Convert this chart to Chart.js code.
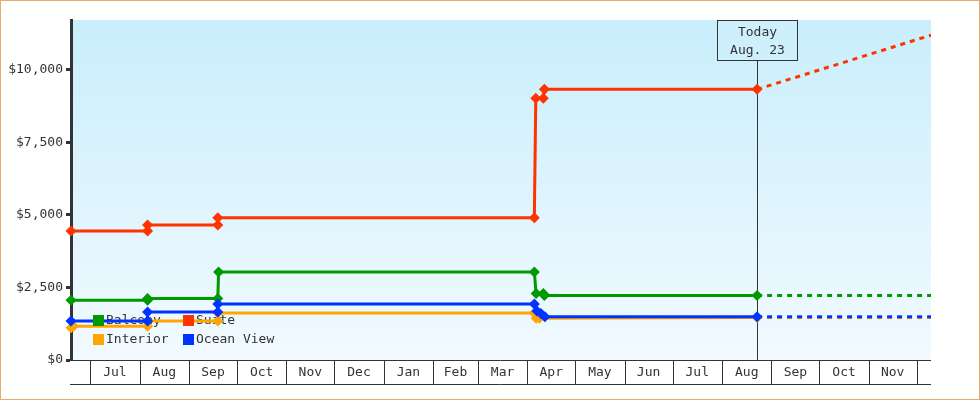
<!DOCTYPE html>
<html>
<head>
<meta charset="utf-8">
<script src="https://cdn.jsdelivr.net/npm/chart.js@4"></script>
<style>
  html, body { margin: 0; padding: 0; background: #fff; }
  #wrap { position: relative; width: 978px; height: 398px; border: 1px solid #e8ad6c; }
</style>
</head>
<body>
<div id="wrap"><canvas id="priceChart" width="978" height="398"></canvas></div>
<script>
// Month cells of the x axis (days counted from Jul 1 of the first year)
const monthNames = ['Jul', 'Aug', 'Sep', 'Oct', 'Nov', 'Dec', 'Jan', 'Feb', 'Mar', 'Apr', 'May', 'Jun', 'Jul', 'Aug', 'Sep', 'Oct', 'Nov'];
const monthStarts = [0, 31, 62, 92, 123, 153, 184, 215, 243, 274, 304, 335, 365, 396, 427, 457, 488, 518];
const yTicks = [0, 2500, 5000, 7500, 10000];
const todayDay = 418;
const todayLabel = ['Today', 'Aug. 23'];

// Price history per cabin type
const balconyDays = [-12, 36, 36, 80, 80.5, 278.4, 279.5, 284, 284.7, 418];
const balconyPrices = [2064, 2064, 2119, 2119, 3031, 3031, 2290, 2290, 2225, 2225];
const suiteDays = [-12, 36, 36, 80, 80, 278.4, 279.3, 284, 284.7, 418];
const suitePrices = [4449, 4449, 4656, 4656, 4908, 4908, 9022, 9022, 9333, 9333];
const interiorDays = [-12, -10.5, 36, 36, 80, 80, 278.4, 279.5, 281.5, 418];
const interiorPrices = [1110, 1160, 1160, 1348, 1348, 1620, 1620, 1441, 1441, 1462];
const oceanDays = [-12, 36, 36, 80, 80, 278.4, 280, 282.5, 285, 418];
const oceanPrices = [1348, 1348, 1659, 1659, 1930, 1930, 1690, 1600, 1490, 1490];

// Projected prices (dotted)
const projDays = [418, 527];
const balconyProj = [2225, 2225];
const suiteProj = [9333, 11200];
const interiorProj = [1462, 1462];
const oceanProj = [1490, 1490];

const xMin = -12, xMax = 527, yMax = 11724;
const FONT = '13px "DejaVu Sans Mono", monospace';
const INK = '#333333';

const colors = { balcony: '#009900', suite: '#ff3300', interior: '#ffa500', ocean: '#0033ff' };
const legendItems = [
    { label: 'Balcony', color: colors.balcony },
    { label: 'Suite', color: colors.suite },
    { label: 'Interior', color: colors.interior },
    { label: 'Ocean View', color: colors.ocean }
];

function pts(xs, ys) {
    return xs.map((x, i) => ({ x: x, y: ys[i] }));
}

function lineSet(xs, ys, color) {
    return {
        data: pts(xs, ys), borderColor: color, backgroundColor: color,
        borderWidth: 3, pointStyle: 'rectRot', pointRadius: 5.5, pointBorderWidth: 0,
        tension: 0, fill: false, clip: false
    };
}

function projSet(xs, ys, color) {
    return {
        data: pts(xs, ys), borderColor: color, borderWidth: 3, borderDash: [5, 5],
        pointRadius: 0, tension: 0, fill: false
    };
}

// fondo degradado, celdas de meses, linea de hoy y leyenda
const decor = {
    id: 'decor',
    beforeDraw(chart) {
        const { ctx, chartArea: a } = chart;
        ctx.save();
        const g = ctx.createLinearGradient(0, a.top, 0, a.bottom);
        g.addColorStop(0, '#c9eefc');
        g.addColorStop(1, '#f2faff');
        ctx.fillStyle = g;
        ctx.fillRect(a.left, a.top, a.right - a.left, a.bottom - a.top);
        ctx.restore();
    },
    beforeDatasetsDraw(chart) {
        const { ctx, chartArea: a, scales: { x } } = chart;
        ctx.save();

        // month band
        ctx.strokeStyle = INK;
        ctx.lineWidth = 1;
        const bandTop = a.bottom + 0.5, bandBottom = a.bottom + 24.5;
        ctx.beginPath();
        ctx.moveTo(a.left - 1, bandTop); ctx.lineTo(a.right, bandTop);
        ctx.moveTo(a.left - 1, bandBottom); ctx.lineTo(a.right, bandBottom);
        monthStarts.forEach(d => {
            const px = Math.round(x.getPixelForValue(d)) + 0.5;
            ctx.moveTo(px, bandTop); ctx.lineTo(px, bandBottom);
        });
        ctx.stroke();
        ctx.fillStyle = INK;
        ctx.font = FONT;
        ctx.textAlign = 'center';
        ctx.textBaseline = 'middle';
        monthNames.forEach((m, i) => {
            const cx = (x.getPixelForValue(monthStarts[i]) + x.getPixelForValue(monthStarts[i + 1])) / 2;
            ctx.fillText(m, cx, a.bottom + 13);
        });

        // today line + box
        const tx = Math.round(x.getPixelForValue(todayDay)) + 0.5;
        ctx.beginPath();
        ctx.moveTo(tx, a.top + 40); ctx.lineTo(tx, a.bottom);
        ctx.stroke();
        ctx.fillStyle = '#cdf0fc';
        ctx.fillRect(tx - 40, a.top + 0.5, 80, 40);
        ctx.strokeRect(tx - 40, a.top + 0.5, 80, 40);
        ctx.fillStyle = INK;
        ctx.fillText(todayLabel[0], tx, a.top + 12.5);
        ctx.fillText(todayLabel[1], tx, a.top + 30.5);

        // legend text (lines pass over it)
        ctx.textAlign = 'left';
        legendItems.forEach((it, i) => {
            const lx = a.left + 35 + (i % 2) * 90;
            const ly = a.top + 301 + Math.floor(i / 2) * 19;
            ctx.fillText(it.label, lx, ly);
        });
        ctx.restore();
    },
    afterDatasetsDraw(chart) {
        const { ctx, chartArea: a } = chart;
        ctx.save();
        legendItems.forEach((it, i) => {
            const lx = a.left + 22 + (i % 2) * 90;
            const ly = a.top + 295 + Math.floor(i / 2) * 19;
            ctx.fillStyle = it.color;
            ctx.fillRect(lx, ly, 11, 11);
        });
        ctx.restore();
    }
};

// index 0 is painted last (on top)
new Chart(document.getElementById('priceChart'), {
    type: 'line',
    data: {
        datasets: [
            lineSet(oceanDays, oceanPrices, colors.ocean),
            lineSet(interiorDays, interiorPrices, colors.interior),
            lineSet(suiteDays, suitePrices, colors.suite),
            lineSet(balconyDays, balconyPrices, colors.balcony),
            projSet(projDays, oceanProj, colors.ocean),
            projSet(projDays, interiorProj, colors.interior),
            projSet(projDays, suiteProj, colors.suite),
            projSet(projDays, balconyProj, colors.balcony)
        ]
    },
    options: {
        responsive: false,
        animation: false,
        devicePixelRatio: 1,
        layout: { padding: { left: 0, top: 19, right: 48, bottom: 14 } },
        plugins: {
            legend: { display: false },
            tooltip: { enabled: false }
        },
        scales: {
            x: {
                type: 'linear',
                min: xMin,
                max: xMax,
                ticks: { display: false },
                grid: { display: false },
                border: { display: false },
                afterFit(scale) { scale.height = 25; }
            },
            y: {
                min: 0,
                max: yMax,
                afterBuildTicks(scale) { scale.ticks = yTicks.map(v => ({ value: v })); },
                afterFit(scale) { scale.width = 70; },
                ticks: {
                    color: INK,
                    font: { family: '"DejaVu Sans Mono", monospace', size: 13 },
                    padding: 3,
                    callback: v => '$' + v.toLocaleString('en-US')
                },
                grid: { drawOnChartArea: false, color: INK, tickLength: 5, tickWidth: 3 },
                border: { color: INK, width: 3 }
            }
        }
    },
    plugins: [decor]
});
</script>
</body>
</html>
